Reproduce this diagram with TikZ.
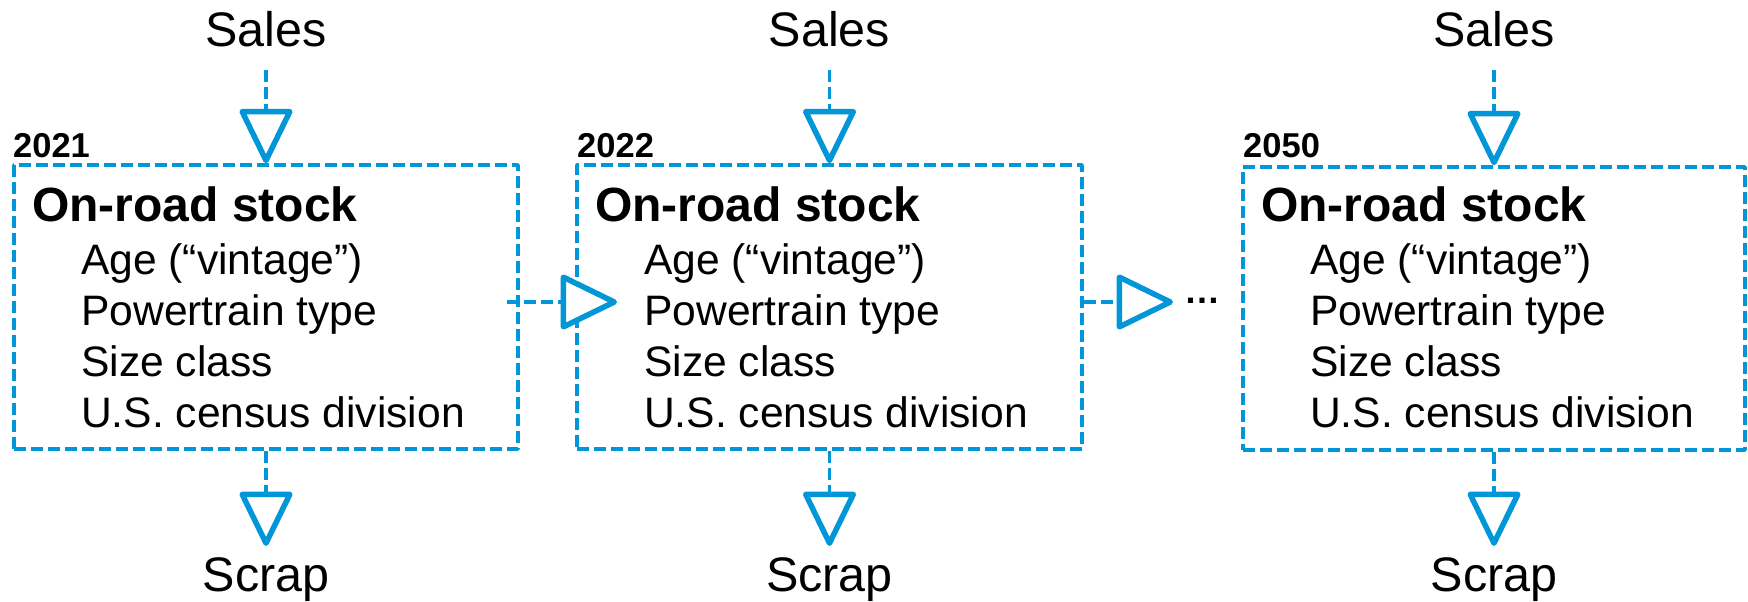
\documentclass[tikz,border=0pt]{standalone}
\usepackage{fontspec}
\setmainfont{Liberation Sans}
\usetikzlibrary{arrows.meta}
\definecolor{flowblue}{RGB}{0,150,215}
\begin{document}
\begin{tikzpicture}[x=1pt,y=-1pt,
  stockbox/.style={draw=flowblue, line width=3.6pt, dash pattern=on 12pt off 5pt,
    line join=round, inner sep=0pt, minimum height=284pt},
  flowlbl/.style={inner sep=0pt, anchor=base, font=\fontsize{48.5}{56}\selectfont},
  yearlbl/.style={inner sep=0pt, anchor=base west, font=\fontsize{34.5}{42}\bfseries},
  titlelbl/.style={inner sep=0pt, anchor=base west, font=\fontsize{48}{56}\bfseries},
  itemlbl/.style={inner sep=0pt, anchor=base west, font=\fontsize{42.6}{50}\selectfont},
  conn/.style={draw=flowblue, line width=3.6pt, dash pattern=on 12pt off 5pt},
  vtip/.style={-{Triangle[open, fill=white, round, length=58pt, width=55pt, line width=5.5pt]}},
  htip/.style={-{Triangle[open, fill=white, round, length=60pt, width=57pt, line width=5.5pt]}}
]
\useasboundingbox (0,0) rectangle (1748,602);

% boxes
\node[stockbox, minimum width=504pt] (b1) at (266,307) {};
\node[stockbox, minimum width=505pt] (b2) at (829.5,307) {};
\node[stockbox, minimum width=502pt, minimum height=283pt] (b3) at (1494,308.5) {};

% year labels
\node[yearlbl] (y1) at (13,157) {2021};
\node[yearlbl] (y2) at (577,157) {2022};
\node[yearlbl] (y3) at (1243,157) {2050};

% titles and items
\foreach \n/\xl in {1/14, 2/577, 3/1243} {
  \node[titlelbl] (t\n) at (\xl+18,221) {On-road stock};
  \node[itemlbl] (i\n a) at (\xl+67,274) {Age (“vintage”)};
  \node[itemlbl] (i\n b) at (\xl+67,325) {Powertrain type};
  \node[itemlbl] (i\n c) at (\xl+67,376) {Size class};
  \node[itemlbl] (i\n d) at (\xl+67,427) {U.S. census division};
}

% sales and scrap labels
\node[flowlbl] (s1) at (266,47) {Sales};
\node[flowlbl] (s2) at (829.5,47) {Sales};
\node[flowlbl] (s3) at (1494,47) {Sales};
\node[flowlbl] (r1) at (266,591) {Scrap};
\node[flowlbl] (r2) at (829.5,591) {Scrap};
\node[flowlbl] (r3) at (1494,591) {Scrap};

% dots
\node[inner sep=0pt, anchor=base west, font=\fontsize{36}{42}\bfseries] (dots) at (1184,303) {…};

% vertical connectors
\foreach \n in {1,2,3} {
  \draw[conn, vtip, shorten <=22pt] (s\n.south) -- (b\n.north);
  \draw[conn, vtip, shorten >=11pt] (b\n.south) -- (r\n.north);
}

% horizontal connectors
\coordinate (h12) at (617,302);
\coordinate (h23) at (1173,302);
\draw[conn, htip] ([xshift=-13pt, yshift=5pt]b1.east) -- (h12);
\draw[conn, htip] ([yshift=5pt]b2.east) -- (h23);
\end{tikzpicture}
\end{document}
